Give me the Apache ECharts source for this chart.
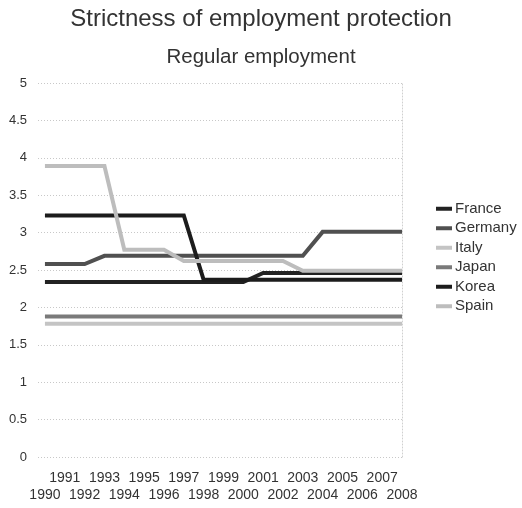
<!DOCTYPE html>
<html>
<head>
<meta charset="utf-8">
<script src="https://cdn.jsdelivr.net/npm/echarts@6/dist/echarts.min.js"></script>
<style>
  html, body { margin: 0; padding: 0; background: #fff; }
  #chart { width: 522px; height: 508px; }
</style>
</head>
<body>
<div id="chart"></div>
<script>
// Employment protection index for regular employment, 1990-2008
const years = [1990, 1991, 1992, 1993, 1994, 1995, 1996, 1997, 1998, 1999,
               2000, 2001, 2002, 2003, 2004, 2005, 2006, 2007, 2008];

const france  = [2.34, 2.34, 2.34, 2.34, 2.34, 2.34, 2.34, 2.34, 2.34, 2.34,
                 2.34, 2.46, 2.46, 2.46, 2.46, 2.46, 2.46, 2.46, 2.46];
const germany = [2.58, 2.58, 2.58, 2.69, 2.69, 2.69, 2.69, 2.69, 2.69, 2.69,
                 2.69, 2.69, 2.69, 2.69, 3.01, 3.01, 3.01, 3.01, 3.01];
const italy   = [1.78, 1.78, 1.78, 1.78, 1.78, 1.78, 1.78, 1.78, 1.78, 1.78,
                 1.78, 1.78, 1.78, 1.78, 1.78, 1.78, 1.78, 1.78, 1.78];
const japan   = [1.88, 1.88, 1.88, 1.88, 1.88, 1.88, 1.88, 1.88, 1.88, 1.88,
                 1.88, 1.88, 1.88, 1.88, 1.88, 1.88, 1.88, 1.88, 1.88];
const korea   = [3.23, 3.23, 3.23, 3.23, 3.23, 3.23, 3.23, 3.23, 2.37, 2.37,
                 2.37, 2.37, 2.37, 2.37, 2.37, 2.37, 2.37, 2.37, 2.37];
const spain   = [3.89, 3.89, 3.89, 3.89, 2.77, 2.77, 2.77, 2.62, 2.62, 2.62,
                 2.62, 2.62, 2.62, 2.49, 2.49, 2.49, 2.49, 2.49, 2.49];

const yTicks = [0, 0.5, 1, 1.5, 2, 2.5, 3, 3.5, 4, 4.5, 5];

// odd years sit on the upper label row, even years on the lower one
const oddYears = years.filter(y => y % 2 === 1);
const evenYears = years.filter(y => y % 2 === 0);

const countries = [
  { name: 'France',  values: france,  color: '#222222' },
  { name: 'Germany', values: germany, color: '#505050' },
  { name: 'Italy',   values: italy,   color: '#c4c4c4' },
  { name: 'Japan',   values: japan,   color: '#7a7a7a' },
  { name: 'Korea',   values: korea,   color: '#1c1c1c' },
  { name: 'Spain',   values: spain,   color: '#bdbdbd' }
];

const font = '"Liberation Sans", Arial, sans-serif';
const chart = echarts.init(document.getElementById('chart'));

function yearAxis(values, margin, show) {
  return {
    type: 'value',
    position: 'bottom',
    min: 1989.65, max: 2008,
    axisLine: { show: false },
    axisTick: { show: false },
    splitLine: { show: false },
    axisLabel: {
      show: show,
      customValues: values,
      fontFamily: font, fontSize: 14, color: '#333333',
      margin: margin,
      hideOverlap: false,
      showMinLabel: true, showMaxLabel: true,
      formatter: v => String(v)
    }
  };
}

chart.setOption({
  animation: false,
  backgroundColor: '#ffffff',
  title: [
    {
      text: 'Strictness of employment protection',
      left: 'center', top: 2,
      textStyle: { fontFamily: font, fontSize: 24, fontWeight: 'normal', color: '#333333' }
    },
    {
      text: 'Regular employment',
      left: 'center', top: 42,
      textStyle: { fontFamily: font, fontSize: 20.5, fontWeight: 'normal', color: '#333333' }
    }
  ],
  legend: {
    orient: 'vertical',
    left: 431, top: 194,
    icon: 'rect',
    itemWidth: 16, itemHeight: 4, itemGap: 0,
    textStyle: { fontFamily: font, fontSize: 15, color: '#333333', lineHeight: 19.5, padding: [0, 0, 0, -2] },
    data: countries.map(c => c.name)
  },
  grid: { left: 38, right: 120, top: 83, bottom: 51 },
  xAxis: [
    yearAxis(oddYears, 14, true),
    yearAxis(evenYears, 31, true)
  ],
  yAxis: [
    {
      type: 'value',
      min: yTicks[0], max: yTicks[yTicks.length - 1], interval: 0.5,
      axisLine: { show: false },
      axisTick: { show: false },
      splitLine: { lineStyle: { color: '#c8c8c8', type: [1, 2], width: 1 } },
      axisLabel: {
        fontFamily: font, fontSize: 13, color: '#333333', margin: 11,
        formatter: v => String(v)
      }
    },
    {
      type: 'value', position: 'right',
      min: 0, max: 5,
      axisLine: { show: true, lineStyle: { color: '#d0d0d0', type: [1, 2], width: 1 } },
      axisTick: { show: false },
      axisLabel: { show: false },
      splitLine: { show: false }
    }
  ],
  series: countries.map(c => ({
    name: c.name,
    type: 'line',
    symbol: 'none',
    color: c.color,
    xAxisIndex: 0,
    yAxisIndex: 0,
    lineStyle: { width: 4, color: c.color, join: 'miter' },
    data: years.map((y, i) => [y, c.values[i]])
  }))
});
</script>
</body>
</html>
